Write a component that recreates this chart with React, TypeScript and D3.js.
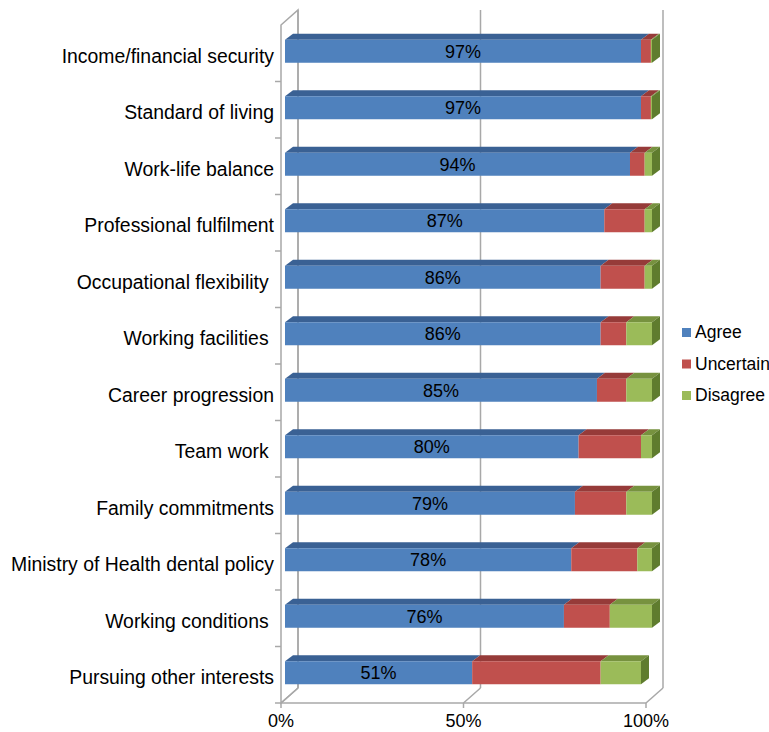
import * as d3 from 'd3';
import React, { useEffect, useRef } from 'react';

const categories = [
  'Income/financial security',
  'Standard of living',
  'Work-life balance',
  'Professional fulfilment',
  'Occupational flexibility ',
  'Working facilities ',
  'Career progression',
  'Team work ',
  'Family commitments',
  'Ministry of Health dental policy',
  'Working conditions ',
  'Pursuing other interests',
];

const agree = [97, 97, 94, 87, 86, 86, 85, 80, 79, 78, 76, 51];
const uncertain = [2.7, 2.7, 4, 11, 12, 7, 8, 17, 14, 18, 12.5, 35];
const disagree = [0.3, 0.3, 2, 2, 2, 7, 7, 3, 7, 4, 11.5, 11];

const seriesNames = ['Agree', 'Uncertain', 'Disagree'];
const xTicks = [0, 50, 100];

const front = ['#4F81BD', '#C0504D', '#9BBB59'];
const top = ['#3A6194', '#963B39', '#77923F'];
const side = ['#34578A', '#86302E', '#5F7C2E'];

const App: React.FC = () => {
  const svgRef = useRef(null);

  useEffect(() => {
    const svg = d3.select(svgRef.current);
    svg.selectAll('*').remove();

    const W = 769;
    const H = 732;
    svg.attr('width', W).attr('height', H).style('position', 'absolute').style('left', 0).style('top', 0);

    const left = 281;
    const floorY = 703;
    const topY = 25;
    const plotW = 365;
    const depthX = 17;
    const depthY = 15;
    const font = 'Liberation Sans, Arial, Helvetica, sans-serif';

    const x = d3.scaleLinear().domain([0, 100]).range([0, plotW]);
    // bars sit a little forward of the back wall, so they read slightly wider
    const xb = d3.scaleLinear().domain([0, 100]).range([0, plotW + 2]);
    const y = d3.scaleBand<string>().domain(categories).range([topY, floorY]);

    const grid = '#a8a8a8';
    const g = svg.append('g');

    // walls / floor
    g.append('path')
      .attr('d', `M${left},${topY}L${left + depthX},${topY - depthY}L${left + depthX},${floorY - depthY}L${left},${floorY}Z`)
      .attr('fill', 'white')
      .attr('stroke', grid)
      .attr('stroke-width', 1.5);

    xTicks.forEach((t) => {
      const fx = left + x(t);
      g.append('line')
        .attr('x1', fx + depthX).attr('x2', fx + depthX)
        .attr('y1', topY - depthY).attr('y2', floorY - depthY)
        .attr('stroke', grid).attr('stroke-width', 1.5);
      g.append('line')
        .attr('x1', fx).attr('x2', fx + depthX)
        .attr('y1', floorY).attr('y2', floorY - depthY)
        .attr('stroke', grid).attr('stroke-width', 1.5);
      g.append('line')
        .attr('x1', fx).attr('x2', fx)
        .attr('y1', floorY).attr('y2', floorY + 5)
        .attr('stroke', grid).attr('stroke-width', 1.5);
      g.append('text')
        .attr('x', fx).attr('y', floorY + 24)
        .attr('text-anchor', 'middle')
        .attr('font-family', font).attr('font-size', 18)
        .text(`${t}%`);
    });

    g.append('line')
      .attr('x1', left).attr('x2', left + plotW)
      .attr('y1', floorY).attr('y2', floorY)
      .attr('stroke', grid).attr('stroke-width', 1.5);

    // category ticks
    const bounds = categories.map((c) => y(c)!).concat([floorY]).slice(1);
    bounds.forEach((b) => {
      g.append('line')
        .attr('x1', left - 6).attr('x2', left)
        .attr('y1', b).attr('y2', b)
        .attr('stroke', grid).attr('stroke-width', 1.5);
    });

    // bars
    const bh = 23;
    const bdx = 8;
    const bdy = 6;
    const off = 4;
    const series = [agree, uncertain, disagree];

    categories.forEach((c, i) => {
      const cy = y(c)! + y.bandwidth() / 2 - 2;
      const y0 = cy - bh / 2;
      let acc = 0;
      const segs = series.map((s, k) => {
        const a = acc;
        acc += s[i];
        return { k, x0: left + off + xb(a), x1: left + off + xb(acc) };
      });
      const bar = g.append('g');
      segs.forEach((s) => {
        bar.append('path')
          .attr('d', `M${s.x0},${y0}L${s.x1},${y0}L${s.x1 + bdx},${y0 - bdy}L${s.x0 + bdx},${y0 - bdy}Z`)
          .attr('fill', top[s.k]);
      });
      segs.forEach((s) => {
        bar.append('rect')
          .attr('x', s.x0).attr('y', y0)
          .attr('width', Math.max(0, s.x1 - s.x0)).attr('height', bh)
          .attr('fill', front[s.k]);
      });
      const last = segs[segs.length - 1];
      bar.append('path')
        .attr('d', `M${last.x1},${y0}L${last.x1 + bdx},${y0 - bdy}L${last.x1 + bdx},${y0 - bdy + bh}L${last.x1},${y0 + bh}Z`)
        .attr('fill', side[last.k]);

      bar.append('text')
        .attr('x', (segs[0].x0 + segs[0].x1) / 2)
        .attr('y', cy + 6.5)
        .attr('text-anchor', 'middle')
        .attr('font-family', font).attr('font-size', 18)
        .text(`${agree[i]}%`);

      g.append('text')
        .attr('x', left - 7)
        .attr('y', y(c)! + y.bandwidth() / 2 + 9.5)
        .attr('text-anchor', 'end')
        .attr('font-family', font).attr('font-size', 19.4)
        .style('white-space', 'pre')
        .text(c);
    });

    // legend
    const lg = g.append('g').attr('transform', 'translate(682,328)');
    seriesNames.forEach((n, k) => {
      lg.append('rect')
        .attr('x', 0).attr('y', k * 31.5)
        .attr('width', 9).attr('height', 9)
        .attr('fill', front[k]);
      lg.append('text')
        .attr('x', 13).attr('y', k * 31.5 + 10)
        .attr('font-family', font).attr('font-size', 17.5)
        .text(n);
    });
  }, []);

  return <svg ref={svgRef} />;
};

export default App;
